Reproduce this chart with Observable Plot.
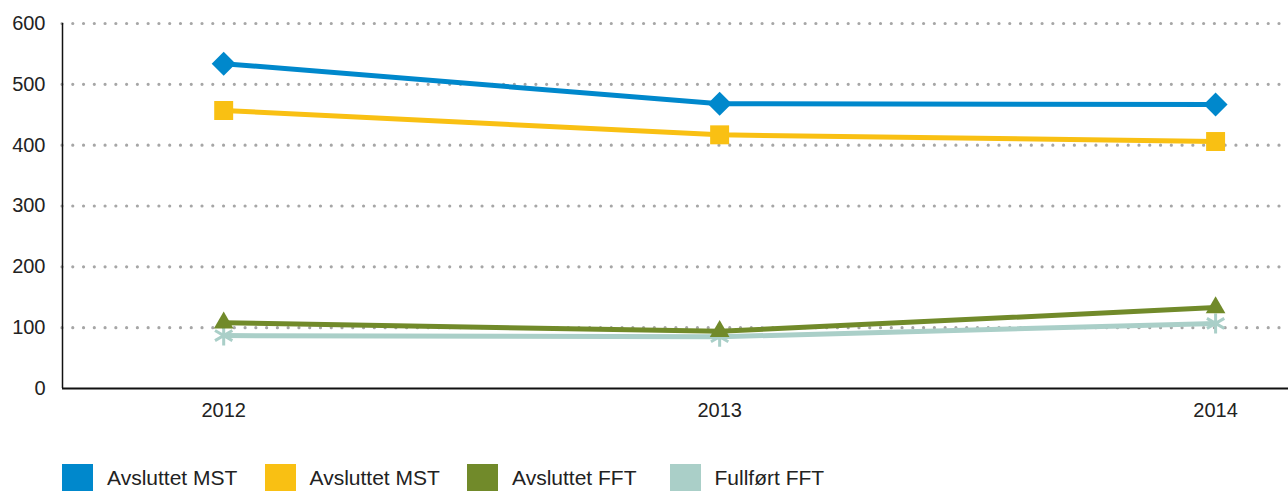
<!DOCTYPE html>
<html>
<head>
<meta charset="utf-8">
<script src="https://cdn.jsdelivr.net/npm/d3@7"></script>
<script src="https://cdn.jsdelivr.net/npm/@observablehq/plot@0.6"></script>
<style>
  html, body { margin: 0; padding: 0; background: #fff; }
  #chart { width: 1288px; }
  #legend { position: relative; width: 1288px; height: 59px; font-family: "Liberation Sans", Arial, sans-serif; font-size: 21px; color: #222; }
  .item { position: absolute; top: 32px; height: 27px; display: flex; align-items: center; }
  .sw { width: 31px; height: 27px; margin-right: 14px; }
</style>
</head>
<body>
<div id="chart"></div>
<div id="legend"></div>
<script>
const years = [2012, 2013, 2014];
const seriesNames = ["Avsluttet MST", "Avsluttet MST", "Avsluttet FFT", "Fullført FFT"];
const seriesColors = ["#0088cc", "#f9c013", "#718a2a", "#aacfc8"];
const blueValues = [534, 468, 467];
const yellowValues = [457, 417, 406];
const greenValues = [108, 94, 133];
const tealValues = [87, 85, 107];
const yTicks = [0, 100, 200, 300, 400, 500, 600];
const gridTicks = [100, 200, 300, 400, 500, 600];

const allValues = [blueValues, yellowValues, greenValues, tealValues];
const rows = [];
allValues.forEach((vals, s) => years.forEach((yr, i) => rows.push({series: s, year: yr, value: vals[i]})));
const bySeries = s => rows.filter(d => d.series === s);

const xDomain = [2011.675, 2014.147];

const plot = Plot.plot({
  width: 1288,
  height: 432,
  marginLeft: 62,
  marginRight: 0,
  marginTop: 23,
  marginBottom: 44,
  style: {fontFamily: "'Liberation Sans', Arial, sans-serif", background: "#fff", color: "#222"},
  x: {type: "linear", domain: xDomain, label: null},
  y: {domain: [0, 600], label: null},
  marks: [
    Plot.ruleY(gridTicks, {x1: xDomain[0], x2: xDomain[1], stroke: "#a6a6a6", strokeWidth: 3.2, strokeDasharray: "0,10.77", strokeLinecap: "round"}),
    Plot.ruleY([0], {x1: xDomain[0], x2: xDomain[1], stroke: "#111", strokeWidth: 2}),
    Plot.ruleX([xDomain[0]], {y1: 0, y2: 600, stroke: "#111", strokeWidth: 1.5}),
    Plot.axisY({ticks: yTicks, tickSize: 0, tickPadding: 17, fontSize: 20, label: null, tickFormat: d => String(d)}),
    Plot.axisX({ticks: years, tickSize: 0, tickPadding: 14, fontSize: 20, label: null, tickFormat: d => String(d)}),
    Plot.line(bySeries(3), {x: "year", y: "value", stroke: seriesColors[3], strokeWidth: 5}),
    Plot.dot(bySeries(3), {x: "year", y: "value", symbol: "asterisk", r: 9.5, stroke: seriesColors[3], strokeWidth: 3}),
    Plot.line(bySeries(2), {x: "year", y: "value", stroke: seriesColors[2], strokeWidth: 5}),
    Plot.dot(bySeries(2), {x: "year", y: "value", symbol: "triangle", r: 7.3, fill: seriesColors[2]}),
    Plot.line(bySeries(1), {x: "year", y: "value", stroke: seriesColors[1], strokeWidth: 5}),
    Plot.dot(bySeries(1), {x: "year", y: "value", symbol: "square", r: 10.7, fill: seriesColors[1]}),
    Plot.line(bySeries(0), {x: "year", y: "value", stroke: seriesColors[0], strokeWidth: 5}),
    Plot.dot(bySeries(0), {x: "year", y: "value", symbol: "diamond2", r: 10.8, fill: seriesColors[0]})
  ]
});
document.getElementById("chart").appendChild(plot);

const legend = document.getElementById("legend");
seriesNames.forEach((name, i) => {
  const item = document.createElement("div");
  item.className = "item";
  item.style.left = (62 + i * 202.5) + "px";
  const sw = document.createElement("div");
  sw.className = "sw";
  sw.style.background = seriesColors[i];
  const label = document.createElement("span");
  label.textContent = name;
  item.appendChild(sw);
  item.appendChild(label);
  legend.appendChild(item);
});
</script>
</body>
</html>
